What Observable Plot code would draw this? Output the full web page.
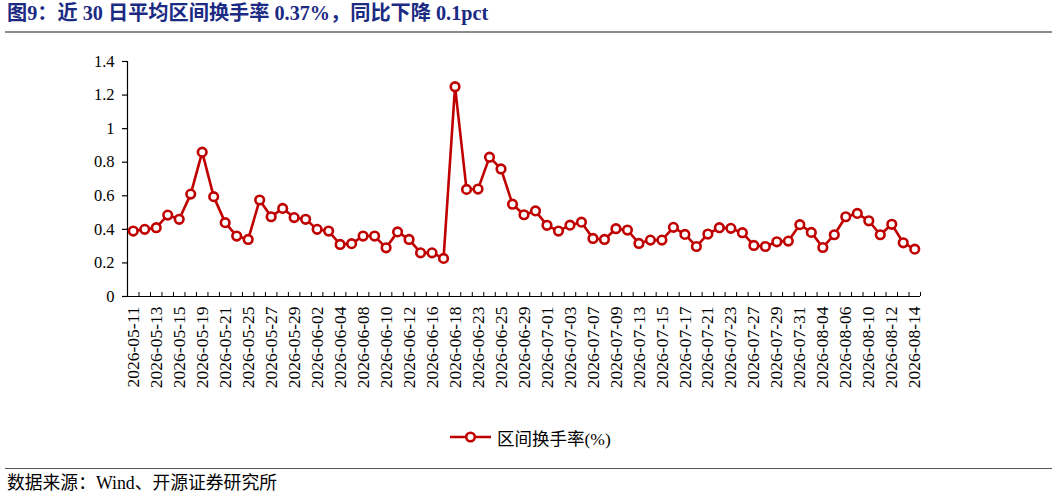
<!DOCTYPE html>
<html><head><meta charset="utf-8">
<script src="https://cdn.jsdelivr.net/npm/d3@7"></script>
<script src="https://cdn.jsdelivr.net/npm/@observablehq/plot@0.6"></script>
<style>
body{margin:0;background:#fff;}
#page{position:relative;width:1057px;height:498px;overflow:hidden;font-family:"Liberation Serif","Noto Sans CJK SC",serif;color:#000;}
#title{position:absolute;left:7px;top:0px;font-size:20.2px;font-weight:bold;color:#1b2a83;white-space:nowrap;line-height:26px;}
#tline{position:absolute;left:5px;width:1047px;top:30.5px;height:2px;background:#8c8c8c;}
#chart{position:absolute;left:0;top:40px;}
#legend{position:absolute;left:450px;top:426px;height:22px;display:flex;align-items:center;font-size:17.5px;white-space:nowrap;}
#legend span{margin-left:6px;}
#bline{position:absolute;left:5px;width:1047px;top:467.5px;height:1.5px;background:#555;}
#source{position:absolute;left:7px;top:472px;font-size:17.8px;line-height:22px;white-space:nowrap;}
</style>
</head><body>
<div id="page">
  <div id="title">图9：近 30 日平均区间换手率 0.37%，同比下降 0.1pct</div>
  <div id="tline"></div>
  <div id="chart"></div>
  <div id="legend"><svg width="41" height="14"><line x1="0" x2="41" y1="7" y2="7" stroke="#C00000" stroke-width="2.6"/><circle cx="20.5" cy="7" r="4.3" fill="#fff" stroke="#C00000" stroke-width="2.6"/></svg><span>区间换手率(%)</span></div>
  <div id="bline"></div>
  <div id="source">数据来源：Wind、开源证券研究所</div>
</div>
<script>
const dates = [
  "2026-05-11","2026-05-12","2026-05-13","2026-05-14","2026-05-15","2026-05-18","2026-05-19","2026-05-20","2026-05-21","2026-05-22",
  "2026-05-25","2026-05-26","2026-05-27","2026-05-28","2026-05-29",
  "2026-06-01","2026-06-02","2026-06-03","2026-06-04","2026-06-05","2026-06-08","2026-06-09","2026-06-10","2026-06-11","2026-06-12",
  "2026-06-15","2026-06-16","2026-06-17","2026-06-18","2026-06-22","2026-06-23","2026-06-24","2026-06-25","2026-06-26","2026-06-29","2026-06-30",
  "2026-07-01","2026-07-02","2026-07-03","2026-07-06","2026-07-07","2026-07-08","2026-07-09","2026-07-10","2026-07-13","2026-07-14",
  "2026-07-15","2026-07-16","2026-07-17","2026-07-20","2026-07-21","2026-07-22","2026-07-23","2026-07-24","2026-07-27","2026-07-28",
  "2026-07-29","2026-07-30","2026-07-31",
  "2026-08-03","2026-08-04","2026-08-05","2026-08-06","2026-08-07","2026-08-10","2026-08-11","2026-08-12","2026-08-13","2026-08-14"
];
const turnover = [
  0.39,0.40,0.41,0.485,0.46,0.61,0.86,0.595,0.44,0.36,
  0.34,0.575,0.475,0.525,0.47,
  0.46,0.40,0.39,0.31,0.315,0.36,0.36,0.29,0.385,0.34,
  0.26,0.26,0.227,1.25,0.638,0.64,0.83,0.76,0.55,0.487,0.51,
  0.424,0.39,0.425,0.443,0.346,0.34,0.404,0.396,0.316,0.336,
  0.336,0.412,0.37,0.298,0.372,0.41,0.406,0.38,0.304,0.298,
  0.326,0.33,0.428,
  0.382,0.292,0.368,0.475,0.495,0.451,0.368,0.43,0.32,0.282
];
const xTickLabels = [
  "2026-05-11","2026-05-13","2026-05-15","2026-05-19","2026-05-21","2026-05-25","2026-05-27","2026-05-29",
  "2026-06-02","2026-06-04","2026-06-08","2026-06-10","2026-06-12","2026-06-16","2026-06-18","2026-06-23","2026-06-25","2026-06-29",
  "2026-07-01","2026-07-03","2026-07-07","2026-07-09","2026-07-13","2026-07-15","2026-07-17","2026-07-21","2026-07-23","2026-07-27","2026-07-29","2026-07-31",
  "2026-08-04","2026-08-06","2026-08-10","2026-08-12","2026-08-14"
];
const yTicks = [0, 0.2, 0.4, 0.6, 0.8, 1, 1.2, 1.4];

const data = dates.map((d, i) => ({date: d, value: turnover[i]}));
const W = 1057, H = 360, mt = 21, mb = 104, ml = 127, mr = 137;
const step = (W - ml - mr) / dates.length;
const font = '"Liberation Serif","Times New Roman",serif';
const red = "#C00000";

const chart = Plot.plot({
  width: W, height: H,
  marginTop: mt, marginBottom: mb, marginLeft: ml, marginRight: mr,
  style: {fontFamily: font, background: "transparent", color: "#000", overflow: "visible"},
  x: {type: "point", domain: dates, padding: 0.5, label: null},
  y: {domain: [0, 1.4], label: null},
  marks: [
    Plot.ruleY([0], {stroke: "#000", strokeWidth: 1.2}),
    Plot.ruleX([dates[0]], {x: d => d, dx: -step / 2, stroke: "#000", strokeWidth: 1.2}),
    Plot.ruleX(dates, {x: d => d, dx: step / 2, insetTop: H - mt - mb - 4, stroke: "#000", strokeWidth: 1}),
    Plot.axisY({ticks: yTicks, tickFormat: d => String(d), tickSize: 5, tickPadding: 8, fontSize: 16.5, stroke: "#000", strokeWidth: 1.2, label: null}),
    Plot.axisX({ticks: xTickLabels, tickRotate: -90, tickSize: 0, tickPadding: 10, fontSize: 17.5, label: null}),
    Plot.line(data, {x: "date", y: "value", stroke: red, strokeWidth: 2.6}),
    Plot.dot(data, {x: "date", y: "value", r: 4.3, fill: "#fff", stroke: red, strokeWidth: 2.6})
  ]
});
document.getElementById("chart").appendChild(chart);
</script>
</body></html>
